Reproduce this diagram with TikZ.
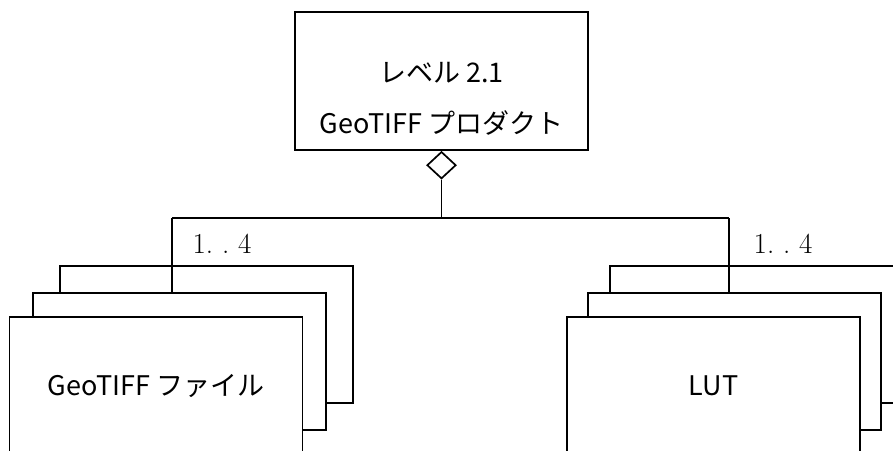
\documentclass[tikz,border=0pt]{standalone}
\usepackage{fontspec}
\newfontfamily\jpfont{Noto Sans CJK JP}
\usetikzlibrary{shapes.geometric}
\begin{document}
\begin{tikzpicture}[x=1pt,y=-1pt,
  line width=1.7pt,
  sheet/.style={draw, fill=white, rectangle, inner sep=0pt, minimum width=293pt, minimum height=137pt},
  jptext/.style={inner sep=0pt, font=\jpfont\fontsize{27}{31}\selectfont},
  mult/.style={inner sep=0pt, font=\fontsize{29}{33}\selectfont}
]
\useasboundingbox (0,0) rectangle (893,450);
\clip (0,0) rectangle (893,450);
% top product box
\node[draw, rectangle, inner sep=0pt, minimum width=293pt, minimum height=138pt] (top) at (441.5,81) {};
\node[jptext] (t1) at (441.5,73) {レベル 2.1};
\node[jptext] (t2) at (441.5,123) {GeoTIFF プロダクト};
% aggregation diamond
\node[draw, diamond, fill=white, inner sep=0pt, minimum width=29pt, minimum height=27pt, anchor=north] (agg) at (top.south) {};
\coordinate (j) at (441.5,218);
\coordinate (lj) at (172,218);
\coordinate (rj) at (729,218);
% left stack
\node[sheet] (lback) at (206.5,334.5) {};
\node[sheet] (lmid) at (179.5,361.5) {};
\node[sheet] (lfront) at (156,385.5) {};
\node[jptext] (ltext) at (lfront.center) {GeoTIFF ファイル};
% right stack
\node[sheet] (rback) at (756.5,334.5) {};
\node[sheet] (rmid) at (734.5,361.5) {};
\node[sheet] (rfront) at (713.5,385.5) {};
\node[jptext] (rtext) at (rfront.center) {LUT};
% connectors
\draw (agg.south) -- (j);
\draw (lj) -- (rj);
\draw (lj) -- (lj |- lmid.north);
\draw (rj) -- (rj |- rmid.north);
% multiplicities
\node[mult] (lm) at (222,244) {1.\ .\ 4};
\node[mult] (rm) at (783,244) {1.\ .\ 4};
\end{tikzpicture}
\end{document}
